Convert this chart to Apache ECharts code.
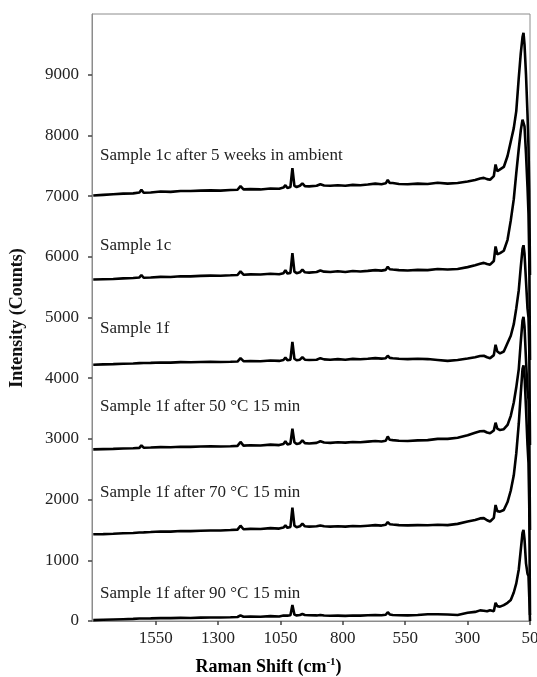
<!DOCTYPE html>
<html>
<head>
<meta charset="utf-8">
<script src="https://cdn.jsdelivr.net/npm/echarts@6/dist/echarts.min.js"></script>
<style>
html,body{margin:0;padding:0;background:#fff;}
#chart{width:537px;height:677px;}
</style>
</head>
<body>
<div id="chart"></div>
<script>
// Raman shift (cm-1)
const ramanShift = [1800,1760,1720,1680,1640,1615,1607,1598,1570,1530,1490,1450,1410,1370,1330,1290,1250,1222,1210,1198,1170,1130,1090,1055,1038,1030,1022,1010,1002,994,985,972,962,952,935,905,890,875,850,820,790,760,730,700,670,645,628,620,612,600,575,540,500,460,420,380,340,300,270,250,235,222,210,195,188,181,170,155,140,127,115,105,95,87,80,76,72,66,60,56,53,50];

const sample1cAfter5Weeks = [7010,7020,7030,7040,7045,7060,7105,7055,7060,7075,7070,7085,7085,7090,7095,7090,7100,7105,7165,7110,7115,7110,7125,7120,7140,7180,7135,7150,7460,7170,7150,7170,7210,7165,7160,7170,7195,7175,7170,7180,7170,7185,7180,7190,7205,7195,7210,7265,7215,7215,7200,7195,7205,7200,7220,7205,7215,7240,7265,7290,7300,7280,7270,7330,7520,7410,7440,7480,7660,7900,8120,8400,8950,9350,9620,9690,9500,9000,8350,7800,7100,5700];

const sample1c = [5625,5630,5635,5645,5650,5660,5700,5655,5660,5670,5668,5680,5678,5685,5690,5688,5695,5700,5760,5705,5710,5708,5720,5712,5730,5780,5725,5735,6060,5755,5730,5745,5790,5745,5740,5750,5775,5755,5750,5762,5750,5765,5758,5768,5780,5772,5785,5835,5795,5790,5780,5775,5785,5780,5800,5790,5800,5830,5860,5885,5900,5880,5870,5930,6170,6040,6060,6100,6280,6600,6950,7380,7780,8080,8260,8285,8150,7700,7150,6700,6000,4300];

const sample1f = [4222,4228,4232,4238,4242,4248,4280,4250,4252,4258,4256,4265,4262,4268,4270,4268,4272,4275,4330,4280,4282,4280,4292,4285,4300,4340,4295,4305,4600,4320,4295,4305,4345,4305,4300,4305,4330,4310,4305,4315,4305,4318,4312,4320,4330,4322,4330,4370,4335,4330,4320,4315,4320,4315,4300,4285,4300,4325,4345,4365,4370,4345,4330,4380,4550,4440,4410,4440,4580,4700,4890,5150,5450,5830,6130,6190,6050,5600,5150,5000,4500,2900];

const sample1fAfter50C = [2828,2832,2836,2842,2846,2852,2895,2855,2858,2864,2862,2870,2868,2874,2878,2875,2880,2885,2950,2890,2895,2892,2905,2898,2915,2960,2910,2920,3170,2945,2915,2930,2975,2930,2925,2935,2960,2940,2935,2945,2938,2950,2945,2955,2965,2958,2970,3040,2985,2980,2970,2965,2975,2980,3000,3000,3020,3060,3100,3125,3130,3105,3092,3140,3267,3170,3146,3160,3230,3380,3600,3850,4150,4600,4950,5010,4850,4300,3800,3650,3100,1500];

const sample1fAfter70C = [1428,1432,1438,1445,1450,1458,1490,1460,1465,1475,1472,1482,1480,1488,1492,1490,1498,1505,1570,1512,1518,1515,1530,1522,1540,1575,1535,1550,1866,1570,1545,1560,1605,1560,1555,1560,1575,1560,1555,1562,1555,1565,1560,1570,1580,1572,1585,1630,1595,1590,1580,1575,1580,1578,1585,1580,1600,1640,1665,1690,1695,1660,1640,1700,1911,1810,1801,1829,1960,2150,2400,2760,3250,3750,4150,4210,4050,3500,2900,2600,1900,100];

const sample1fAfter90C = [15,20,25,30,35,40,60,42,44,48,47,52,50,56,58,57,62,66,92,70,72,70,80,75,90,105,88,95,264,105,92,98,115,98,95,92,100,90,86,88,85,90,88,95,100,95,102,145,108,100,95,92,100,110,112,108,100,135,150,175,170,160,178,160,300,245,236,262,300,346,470,620,850,1170,1450,1500,1350,950,780,740,400,0];

const seriesNames = ['Sample 1c after 5 weeks in ambient','Sample 1c','Sample 1f','Sample 1f after 50 °C 15 min','Sample 1f after 70 °C 15 min','Sample 1f after 90 °C 15 min'];
const seriesValues = [sample1cAfter5Weeks, sample1c, sample1f, sample1fAfter50C, sample1fAfter70C, sample1fAfter90C];

const xTickLabels = [1550,1300,1050,800,550,300,50];
const yTickLabels = [0,1000,2000,3000,4000,5000,6000,7000,8000,9000];

const labelYs = [156, 246, 329, 407, 493, 594];

const FONT = '"Liberation Serif", "Times New Roman", serif';
const chart = echarts.init(document.getElementById('chart'), null, {renderer:'canvas'});

const series = seriesValues.map((vals, i) => ({
  name: seriesNames[i],
  type: 'line',
  data: ramanShift.map((x, j) => [x, vals[j]]),
  showSymbol: false,
  symbol: 'none',
  smooth: false,
  clip: true,
  lineStyle: {color: '#000', width: 2.6},
  itemStyle: {color: '#000'},
  animation: false,
  z: 3
}));

chart.setOption({
  animation: false,
  backgroundColor: '#fff',
  grid: {left: 92, right: 7, top: 14, bottom: 56, outerBoundsMode: 'none', containLabel: false, show: true, borderColor: '#8c8c8c', borderWidth: 1, backgroundColor: 'transparent'},
  xAxis: {
    type: 'value', inverse: true, min: 50, max: 1805, interval: 250,
    axisLine: {show: true, lineStyle: {color: '#8c8c8c', width: 1}},
    axisTick: {show: true, inside: false, length: 4, customValues: xTickLabels, lineStyle: {color: '#444', width: 1.5}},
    axisLabel: {customValues: xTickLabels, formatter: v => String(v), color: '#222', fontFamily: FONT, fontSize: 17, margin: 9, hideOverlap: false},
    splitLine: {show: false}
  },
  yAxis: {
    type: 'value', min: 0, max: 10000, interval: 1000,
    axisLine: {show: true, lineStyle: {color: '#8c8c8c', width: 1}},
    axisTick: {show: true, inside: false, length: 4, customValues: yTickLabels, lineStyle: {color: '#444', width: 1.5}},
    axisLabel: {customValues: yTickLabels, formatter: v => String(v), color: '#222', fontFamily: FONT, fontSize: 17, margin: 13},
    splitLine: {show: false}
  },
  graphic: [
    {
      type: 'text', left: 'center', x: 0, top: 657,
      style: {
        text: '{a|Raman Shift (cm}{s|-1}{a|)}',
        rich: {
          a: {fontFamily: FONT, fontWeight: 'bold', fontSize: 18, color: '#111'},
          s: {fontFamily: FONT, fontWeight: 'bold', fontSize: 11, color: '#111', padding: [0,0,9,0]}
        }
      }
    },
    {
      type: 'text', x: 17, y: 318, rotation: Math.PI/2,
      style: {text: 'Intensity (Counts)', fontFamily: FONT, fontWeight: 'bold', fontSize: 18, fill: '#111', align: 'center', verticalAlign: 'middle'}
    }
  ].concat(seriesNames.map((n, i) => ({
    type: 'text', x: 100, y: labelYs[i],
    style: {text: n, fontFamily: FONT, fontSize: 17, fill: '#222', align: 'left', verticalAlign: 'middle'}
  }))),
  series: series
});
</script>
</body>
</html>
